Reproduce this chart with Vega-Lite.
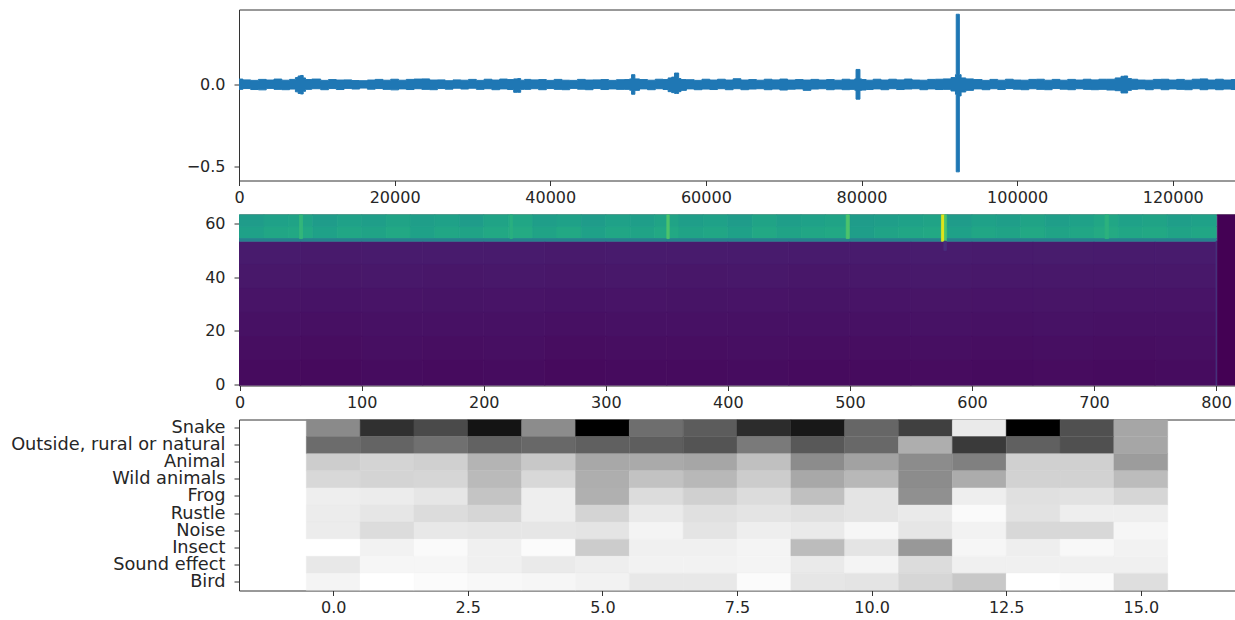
{"$schema":"https://vega.github.io/schema/vega-lite/v6.json","background":"white","padding":{"left":10,"top":8.5,"right":0,"bottom":0},"spacing":34,"bounds":"flush","resolve":{"scale":{"color":"independent","stroke":"independent"}},"config":{"view":{"stroke":"#333333","strokeWidth":1},"axis":{"grid":false,"domain":false,"title":null,"labelFont":"DejaVu Sans","labelFontSize":16,"labelColor":"#262626","tickColor":"#333333","tickSize":5,"labelFlush":false,"labelOverlap":false,"labelLimit":400},"axisX":{"labelPadding":4},"axisY":{"labelPadding":9}},"vconcat":[{"width":996,"height":171,"data":{"values":[{"t":0,"lo":-0.03,"hi":0.033},{"t":1000,"lo":-0.025,"hi":0.028},{"t":2000,"lo":-0.031,"hi":0.025},{"t":3000,"lo":-0.033,"hi":0.031},{"t":4000,"lo":-0.024,"hi":0.027},{"t":5000,"lo":-0.03,"hi":0.033},{"t":6000,"lo":-0.032,"hi":0.026},{"t":7000,"lo":-0.028,"hi":0.031},{"t":7500,"lo":-0.045,"hi":0.042},{"t":7700,"lo":-0.055,"hi":0.052},{"t":8100,"lo":-0.058,"hi":0.055},{"t":8400,"lo":-0.042,"hi":0.04},{"t":8700,"lo":-0.03,"hi":0.03},{"t":10000,"lo":-0.026,"hi":0.033},{"t":11000,"lo":-0.032,"hi":0.025},{"t":12000,"lo":-0.025,"hi":0.03},{"t":13000,"lo":-0.031,"hi":0.027},{"t":14000,"lo":-0.024,"hi":0.028},{"t":15000,"lo":-0.028,"hi":0.024},{"t":16000,"lo":-0.022,"hi":0.023},{"t":17000,"lo":-0.029,"hi":0.027},{"t":18000,"lo":-0.025,"hi":0.031},{"t":19000,"lo":-0.03,"hi":0.026},{"t":20000,"lo":-0.033,"hi":0.032},{"t":21000,"lo":-0.027,"hi":0.026},{"t":22000,"lo":-0.031,"hi":0.031},{"t":23000,"lo":-0.026,"hi":0.033},{"t":24000,"lo":-0.03,"hi":0.034},{"t":25000,"lo":-0.032,"hi":0.027},{"t":26000,"lo":-0.025,"hi":0.028},{"t":27000,"lo":-0.029,"hi":0.023},{"t":28000,"lo":-0.023,"hi":0.028},{"t":29000,"lo":-0.028,"hi":0.026},{"t":30000,"lo":-0.023,"hi":0.031},{"t":31000,"lo":-0.03,"hi":0.025},{"t":32000,"lo":-0.026,"hi":0.032},{"t":33000,"lo":-0.032,"hi":0.027},{"t":34000,"lo":-0.027,"hi":0.033},{"t":35000,"lo":-0.031,"hi":0.03},{"t":35600,"lo":-0.048,"hi":0.034},{"t":36000,"lo":-0.048,"hi":0.036},{"t":36400,"lo":-0.03,"hi":0.026},{"t":37000,"lo":-0.03,"hi":0.031},{"t":38000,"lo":-0.026,"hi":0.028},{"t":39000,"lo":-0.032,"hi":0.03},{"t":40000,"lo":-0.025,"hi":0.025},{"t":41000,"lo":-0.03,"hi":0.031},{"t":42000,"lo":-0.032,"hi":0.026},{"t":43000,"lo":-0.024,"hi":0.025},{"t":44000,"lo":-0.029,"hi":0.031},{"t":45000,"lo":-0.032,"hi":0.027},{"t":46000,"lo":-0.025,"hi":0.028},{"t":47000,"lo":-0.031,"hi":0.03},{"t":48000,"lo":-0.027,"hi":0.025},{"t":49000,"lo":-0.03,"hi":0.029},{"t":50000,"lo":-0.03,"hi":0.03},{"t":50400,"lo":-0.035,"hi":0.034},{"t":50500,"lo":-0.06,"hi":0.06},{"t":50800,"lo":-0.06,"hi":0.06},{"t":50950,"lo":-0.036,"hi":0.034},{"t":52000,"lo":-0.027,"hi":0.03},{"t":53000,"lo":-0.032,"hi":0.026},{"t":54000,"lo":-0.026,"hi":0.032},{"t":55000,"lo":-0.031,"hi":0.03},{"t":55300,"lo":-0.044,"hi":0.04},{"t":55900,"lo":-0.05,"hi":0.045},{"t":56050,"lo":-0.055,"hi":0.07},{"t":56400,"lo":-0.055,"hi":0.07},{"t":56600,"lo":-0.044,"hi":0.036},{"t":57000,"lo":-0.036,"hi":0.03},{"t":58000,"lo":-0.027,"hi":0.029},{"t":59000,"lo":-0.032,"hi":0.025},{"t":60000,"lo":-0.028,"hi":0.032},{"t":61000,"lo":-0.031,"hi":0.027},{"t":62000,"lo":-0.026,"hi":0.032},{"t":63000,"lo":-0.032,"hi":0.027},{"t":64000,"lo":-0.026,"hi":0.035},{"t":65000,"lo":-0.032,"hi":0.027},{"t":66000,"lo":-0.028,"hi":0.03},{"t":67000,"lo":-0.026,"hi":0.026},{"t":68000,"lo":-0.032,"hi":0.032},{"t":69000,"lo":-0.028,"hi":0.028},{"t":70000,"lo":-0.034,"hi":0.033},{"t":71000,"lo":-0.029,"hi":0.027},{"t":72000,"lo":-0.027,"hi":0.03},{"t":73000,"lo":-0.036,"hi":0.027},{"t":74000,"lo":-0.028,"hi":0.031},{"t":75000,"lo":-0.026,"hi":0.027},{"t":76000,"lo":-0.032,"hi":0.03},{"t":77000,"lo":-0.028,"hi":0.026},{"t":78000,"lo":-0.032,"hi":0.032},{"t":79000,"lo":-0.03,"hi":0.028},{"t":79250,"lo":-0.035,"hi":0.034},{"t":79350,"lo":-0.09,"hi":0.092},{"t":79750,"lo":-0.09,"hi":0.092},{"t":79850,"lo":-0.036,"hi":0.034},{"t":80200,"lo":-0.034,"hi":0.03},{"t":81000,"lo":-0.031,"hi":0.026},{"t":82000,"lo":-0.027,"hi":0.032},{"t":83000,"lo":-0.032,"hi":0.027},{"t":84000,"lo":-0.026,"hi":0.032},{"t":85000,"lo":-0.031,"hi":0.028},{"t":86000,"lo":-0.028,"hi":0.033},{"t":87000,"lo":-0.026,"hi":0.027},{"t":88000,"lo":-0.032,"hi":0.026},{"t":89000,"lo":-0.027,"hi":0.031},{"t":90000,"lo":-0.031,"hi":0.032},{"t":91000,"lo":-0.03,"hi":0.034},{"t":92000,"lo":-0.04,"hi":0.042},{"t":92150,"lo":-0.06,"hi":0.06},{"t":92200,"lo":-0.535,"hi":0.43},{"t":92550,"lo":-0.535,"hi":0.43},{"t":92600,"lo":-0.07,"hi":0.06},{"t":93000,"lo":-0.046,"hi":0.04},{"t":93800,"lo":-0.036,"hi":0.034},{"t":95000,"lo":-0.027,"hi":0.03},{"t":96000,"lo":-0.032,"hi":0.025},{"t":97000,"lo":-0.026,"hi":0.031},{"t":98000,"lo":-0.031,"hi":0.026},{"t":99000,"lo":-0.025,"hi":0.032},{"t":100000,"lo":-0.029,"hi":0.027},{"t":101000,"lo":-0.032,"hi":0.026},{"t":102000,"lo":-0.026,"hi":0.031},{"t":103000,"lo":-0.03,"hi":0.032},{"t":104000,"lo":-0.032,"hi":0.026},{"t":105000,"lo":-0.025,"hi":0.031},{"t":106000,"lo":-0.029,"hi":0.026},{"t":107000,"lo":-0.032,"hi":0.031},{"t":108000,"lo":-0.026,"hi":0.027},{"t":109000,"lo":-0.03,"hi":0.032},{"t":110000,"lo":-0.032,"hi":0.028},{"t":111000,"lo":-0.03,"hi":0.032},{"t":112000,"lo":-0.034,"hi":0.032},{"t":113200,"lo":-0.038,"hi":0.04},{"t":113500,"lo":-0.052,"hi":0.05},{"t":114000,"lo":-0.052,"hi":0.052},{"t":114400,"lo":-0.036,"hi":0.036},{"t":115000,"lo":-0.03,"hi":0.032},{"t":116000,"lo":-0.027,"hi":0.027},{"t":117000,"lo":-0.032,"hi":0.026},{"t":118000,"lo":-0.026,"hi":0.031},{"t":119000,"lo":-0.032,"hi":0.032},{"t":120000,"lo":-0.027,"hi":0.027},{"t":121000,"lo":-0.03,"hi":0.031},{"t":122000,"lo":-0.032,"hi":0.026},{"t":123000,"lo":-0.026,"hi":0.032},{"t":124000,"lo":-0.032,"hi":0.034},{"t":125000,"lo":-0.027,"hi":0.027},{"t":126000,"lo":-0.032,"hi":0.032},{"t":127000,"lo":-0.028,"hi":0.027},{"t":128000,"lo":-0.031,"hi":0.03}]},"mark":{"type":"area","color":"#1f77b4","stroke":"#1f77b4","strokeWidth":1,"interpolate":"step","clip":true},"encoding":{"x":{"field":"t","type":"quantitative","scale":{"domain":[0,128000],"nice":false,"zero":false},"axis":{"values":[0,20000,40000,60000,80000,100000,120000],"format":"d"}},"y":{"field":"lo","type":"quantitative","scale":{"domain":[-0.588,0.459],"nice":false,"zero":false},"axis":{"values":[-0.5,0],"format":".1f"}},"y2":{"field":"hi"}}},{"width":996,"height":171,"data":{"values":[{"a":-0.5,"b":50,"c":-0.5,"d":9,"v":0.026},{"a":50,"b":100,"c":-0.5,"d":9,"v":0.024},{"a":100,"b":150,"c":-0.5,"d":9,"v":0.027},{"a":150,"b":200,"c":-0.5,"d":9,"v":0.025},{"a":200,"b":250,"c":-0.5,"d":9,"v":0.027},{"a":250,"b":300,"c":-0.5,"d":9,"v":0.024},{"a":300,"b":350,"c":-0.5,"d":9,"v":0.026},{"a":350,"b":400,"c":-0.5,"d":9,"v":0.025},{"a":400,"b":450,"c":-0.5,"d":9,"v":0.027},{"a":450,"b":500,"c":-0.5,"d":9,"v":0.025},{"a":500,"b":550,"c":-0.5,"d":9,"v":0.026},{"a":550,"b":600,"c":-0.5,"d":9,"v":0.028},{"a":600,"b":650,"c":-0.5,"d":9,"v":0.026},{"a":650,"b":700,"c":-0.5,"d":9,"v":0.028},{"a":700,"b":750,"c":-0.5,"d":9,"v":0.026},{"a":750,"b":800,"c":-0.5,"d":9,"v":0.027},{"a":-0.5,"b":50,"c":9,"d":18,"v":0.034},{"a":50,"b":100,"c":9,"d":18,"v":0.032},{"a":100,"b":150,"c":9,"d":18,"v":0.035},{"a":150,"b":200,"c":9,"d":18,"v":0.033},{"a":200,"b":250,"c":9,"d":18,"v":0.035},{"a":250,"b":300,"c":9,"d":18,"v":0.032},{"a":300,"b":350,"c":9,"d":18,"v":0.034},{"a":350,"b":400,"c":9,"d":18,"v":0.033},{"a":400,"b":450,"c":9,"d":18,"v":0.035},{"a":450,"b":500,"c":9,"d":18,"v":0.033},{"a":500,"b":550,"c":9,"d":18,"v":0.034},{"a":550,"b":600,"c":9,"d":18,"v":0.036},{"a":600,"b":650,"c":9,"d":18,"v":0.034},{"a":650,"b":700,"c":9,"d":18,"v":0.036},{"a":700,"b":750,"c":9,"d":18,"v":0.034},{"a":750,"b":800,"c":9,"d":18,"v":0.035},{"a":-0.5,"b":50,"c":18,"d":27,"v":0.042},{"a":50,"b":100,"c":18,"d":27,"v":0.04},{"a":100,"b":150,"c":18,"d":27,"v":0.043},{"a":150,"b":200,"c":18,"d":27,"v":0.041},{"a":200,"b":250,"c":18,"d":27,"v":0.043},{"a":250,"b":300,"c":18,"d":27,"v":0.04},{"a":300,"b":350,"c":18,"d":27,"v":0.042},{"a":350,"b":400,"c":18,"d":27,"v":0.041},{"a":400,"b":450,"c":18,"d":27,"v":0.043},{"a":450,"b":500,"c":18,"d":27,"v":0.041},{"a":500,"b":550,"c":18,"d":27,"v":0.042},{"a":550,"b":600,"c":18,"d":27,"v":0.044},{"a":600,"b":650,"c":18,"d":27,"v":0.042},{"a":650,"b":700,"c":18,"d":27,"v":0.044},{"a":700,"b":750,"c":18,"d":27,"v":0.042},{"a":750,"b":800,"c":18,"d":27,"v":0.043},{"a":-0.5,"b":50,"c":27,"d":36,"v":0.05},{"a":50,"b":100,"c":27,"d":36,"v":0.048},{"a":100,"b":150,"c":27,"d":36,"v":0.051},{"a":150,"b":200,"c":27,"d":36,"v":0.049},{"a":200,"b":250,"c":27,"d":36,"v":0.051},{"a":250,"b":300,"c":27,"d":36,"v":0.048},{"a":300,"b":350,"c":27,"d":36,"v":0.05},{"a":350,"b":400,"c":27,"d":36,"v":0.049},{"a":400,"b":450,"c":27,"d":36,"v":0.051},{"a":450,"b":500,"c":27,"d":36,"v":0.049},{"a":500,"b":550,"c":27,"d":36,"v":0.05},{"a":550,"b":600,"c":27,"d":36,"v":0.053},{"a":600,"b":650,"c":27,"d":36,"v":0.05},{"a":650,"b":700,"c":27,"d":36,"v":0.052},{"a":700,"b":750,"c":27,"d":36,"v":0.05},{"a":750,"b":800,"c":27,"d":36,"v":0.051},{"a":-0.5,"b":50,"c":36,"d":45,"v":0.06},{"a":50,"b":100,"c":36,"d":45,"v":0.058},{"a":100,"b":150,"c":36,"d":45,"v":0.061},{"a":150,"b":200,"c":36,"d":45,"v":0.059},{"a":200,"b":250,"c":36,"d":45,"v":0.061},{"a":250,"b":300,"c":36,"d":45,"v":0.058},{"a":300,"b":350,"c":36,"d":45,"v":0.06},{"a":350,"b":400,"c":36,"d":45,"v":0.059},{"a":400,"b":450,"c":36,"d":45,"v":0.061},{"a":450,"b":500,"c":36,"d":45,"v":0.059},{"a":500,"b":550,"c":36,"d":45,"v":0.06},{"a":550,"b":600,"c":36,"d":45,"v":0.063},{"a":600,"b":650,"c":36,"d":45,"v":0.06},{"a":650,"b":700,"c":36,"d":45,"v":0.062},{"a":700,"b":750,"c":36,"d":45,"v":0.06},{"a":750,"b":800,"c":36,"d":45,"v":0.061},{"a":-0.5,"b":50,"c":45,"d":53.5,"v":0.07},{"a":50,"b":100,"c":45,"d":53.5,"v":0.068},{"a":100,"b":150,"c":45,"d":53.5,"v":0.071},{"a":150,"b":200,"c":45,"d":53.5,"v":0.069},{"a":200,"b":250,"c":45,"d":53.5,"v":0.071},{"a":250,"b":300,"c":45,"d":53.5,"v":0.068},{"a":300,"b":350,"c":45,"d":53.5,"v":0.07},{"a":350,"b":400,"c":45,"d":53.5,"v":0.069},{"a":400,"b":450,"c":45,"d":53.5,"v":0.071},{"a":450,"b":500,"c":45,"d":53.5,"v":0.069},{"a":500,"b":550,"c":45,"d":53.5,"v":0.07},{"a":550,"b":600,"c":45,"d":53.5,"v":0.073},{"a":600,"b":650,"c":45,"d":53.5,"v":0.07},{"a":650,"b":700,"c":45,"d":53.5,"v":0.072},{"a":700,"b":750,"c":45,"d":53.5,"v":0.07},{"a":750,"b":800,"c":45,"d":53.5,"v":0.071},{"a":-0.5,"b":20,"c":54.5,"d":59,"v":0.57},{"a":20,"b":40,"c":54.5,"d":59,"v":0.59},{"a":40,"b":60,"c":54.5,"d":59,"v":0.6},{"a":60,"b":80,"c":54.5,"d":59,"v":0.57},{"a":80,"b":100,"c":54.5,"d":59,"v":0.59},{"a":100,"b":120,"c":54.5,"d":59,"v":0.58},{"a":120,"b":140,"c":54.5,"d":59,"v":0.6},{"a":140,"b":160,"c":54.5,"d":59,"v":0.57},{"a":160,"b":180,"c":54.5,"d":59,"v":0.59},{"a":180,"b":200,"c":54.5,"d":59,"v":0.58},{"a":200,"b":220,"c":54.5,"d":59,"v":0.6},{"a":220,"b":240,"c":54.5,"d":59,"v":0.61},{"a":240,"b":260,"c":54.5,"d":59,"v":0.58},{"a":260,"b":280,"c":54.5,"d":59,"v":0.6},{"a":280,"b":300,"c":54.5,"d":59,"v":0.57},{"a":300,"b":320,"c":54.5,"d":59,"v":0.59},{"a":320,"b":340,"c":54.5,"d":59,"v":0.58},{"a":340,"b":360,"c":54.5,"d":59,"v":0.6},{"a":360,"b":380,"c":54.5,"d":59,"v":0.58},{"a":380,"b":400,"c":54.5,"d":59,"v":0.59},{"a":400,"b":420,"c":54.5,"d":59,"v":0.57},{"a":420,"b":440,"c":54.5,"d":59,"v":0.6},{"a":440,"b":460,"c":54.5,"d":59,"v":0.58},{"a":460,"b":480,"c":54.5,"d":59,"v":0.59},{"a":480,"b":500,"c":54.5,"d":59,"v":0.6},{"a":500,"b":520,"c":54.5,"d":59,"v":0.56},{"a":520,"b":540,"c":54.5,"d":59,"v":0.58},{"a":540,"b":560,"c":54.5,"d":59,"v":0.59},{"a":560,"b":580,"c":54.5,"d":59,"v":0.6},{"a":580,"b":600,"c":54.5,"d":59,"v":0.57},{"a":600,"b":620,"c":54.5,"d":59,"v":0.59},{"a":620,"b":640,"c":54.5,"d":59,"v":0.58},{"a":640,"b":660,"c":54.5,"d":59,"v":0.6},{"a":660,"b":680,"c":54.5,"d":59,"v":0.58},{"a":680,"b":700,"c":54.5,"d":59,"v":0.59},{"a":700,"b":720,"c":54.5,"d":59,"v":0.61},{"a":720,"b":740,"c":54.5,"d":59,"v":0.59},{"a":740,"b":760,"c":54.5,"d":59,"v":0.6},{"a":760,"b":780,"c":54.5,"d":59,"v":0.58},{"a":780,"b":800.5,"c":54.5,"d":59,"v":0.59},{"a":-0.5,"b":20,"c":59,"d":63.5,"v":0.55},{"a":20,"b":40,"c":59,"d":63.5,"v":0.57},{"a":40,"b":60,"c":59,"d":63.5,"v":0.58},{"a":60,"b":80,"c":59,"d":63.5,"v":0.55},{"a":80,"b":100,"c":59,"d":63.5,"v":0.57},{"a":100,"b":120,"c":59,"d":63.5,"v":0.56},{"a":120,"b":140,"c":59,"d":63.5,"v":0.58},{"a":140,"b":160,"c":59,"d":63.5,"v":0.56},{"a":160,"b":180,"c":59,"d":63.5,"v":0.57},{"a":180,"b":200,"c":59,"d":63.5,"v":0.55},{"a":200,"b":220,"c":59,"d":63.5,"v":0.58},{"a":220,"b":240,"c":59,"d":63.5,"v":0.59},{"a":240,"b":260,"c":59,"d":63.5,"v":0.56},{"a":260,"b":280,"c":59,"d":63.5,"v":0.57},{"a":280,"b":300,"c":59,"d":63.5,"v":0.55},{"a":300,"b":320,"c":59,"d":63.5,"v":0.57},{"a":320,"b":340,"c":59,"d":63.5,"v":0.56},{"a":340,"b":360,"c":59,"d":63.5,"v":0.58},{"a":360,"b":380,"c":59,"d":63.5,"v":0.56},{"a":380,"b":400,"c":59,"d":63.5,"v":0.57},{"a":400,"b":420,"c":59,"d":63.5,"v":0.55},{"a":420,"b":440,"c":59,"d":63.5,"v":0.58},{"a":440,"b":460,"c":59,"d":63.5,"v":0.56},{"a":460,"b":480,"c":59,"d":63.5,"v":0.57},{"a":480,"b":500,"c":59,"d":63.5,"v":0.58},{"a":500,"b":520,"c":59,"d":63.5,"v":0.55},{"a":520,"b":540,"c":59,"d":63.5,"v":0.56},{"a":540,"b":560,"c":59,"d":63.5,"v":0.57},{"a":560,"b":580,"c":59,"d":63.5,"v":0.58},{"a":580,"b":600,"c":59,"d":63.5,"v":0.55},{"a":600,"b":620,"c":59,"d":63.5,"v":0.57},{"a":620,"b":640,"c":59,"d":63.5,"v":0.56},{"a":640,"b":660,"c":59,"d":63.5,"v":0.58},{"a":660,"b":680,"c":59,"d":63.5,"v":0.56},{"a":680,"b":700,"c":59,"d":63.5,"v":0.57},{"a":700,"b":720,"c":59,"d":63.5,"v":0.59},{"a":720,"b":740,"c":59,"d":63.5,"v":0.57},{"a":740,"b":760,"c":59,"d":63.5,"v":0.58},{"a":760,"b":780,"c":59,"d":63.5,"v":0.56},{"a":780,"b":800.5,"c":59,"d":63.5,"v":0.57},{"a":-0.5,"b":800.5,"c":53.5,"d":54.5,"v":0.44},{"a":49,"b":51.5,"c":54.5,"d":63.5,"v":0.66},{"a":221.5,"b":223.5,"c":54.5,"d":63.5,"v":0.63},{"a":350,"b":352,"c":54.5,"d":63.5,"v":0.72},{"a":497,"b":499.5,"c":54.5,"d":63.5,"v":0.72},{"a":575,"b":577.5,"c":53.5,"d":63.5,"v":0.95},{"a":577.5,"b":579,"c":53.5,"d":63.5,"v":0.72},{"a":577,"b":579,"c":50,"d":53.5,"v":0.13},{"a":709,"b":712,"c":54.5,"d":63.5,"v":0.64},{"a":800,"b":801,"c":-0.5,"d":53.5,"v":0.16},{"a":801,"b":815.5,"c":-0.5,"d":63.5,"v":0}]},"mark":{"type":"rect","clip":true,"strokeWidth":0.8},"encoding":{"x":{"field":"a","type":"quantitative","scale":{"domain":[-0.5,815.5],"nice":false,"zero":false},"axis":{"values":[0,100,200,300,400,500,600,700,800],"format":"d"}},"x2":{"field":"b"},"y":{"field":"c","type":"quantitative","scale":{"domain":[-0.5,63.5],"nice":false,"zero":false},"axis":{"values":[0,20,40,60],"format":"d"}},"y2":{"field":"d"},"color":{"field":"v","type":"quantitative","scale":{"scheme":"viridis","domain":[0,1]},"legend":null},"stroke":{"field":"v","type":"quantitative","scale":{"scheme":"viridis","domain":[0,1]},"legend":null}}},{"width":996,"height":171,"data":{"values":[{"tag":"Snake","a":-0.5,"b":0.5,"g":138},{"tag":"Snake","a":0.5,"b":1.5,"g":48},{"tag":"Snake","a":1.5,"b":2.5,"g":74},{"tag":"Snake","a":2.5,"b":3.5,"g":20},{"tag":"Snake","a":3.5,"b":4.5,"g":140},{"tag":"Snake","a":4.5,"b":5.5,"g":0},{"tag":"Snake","a":5.5,"b":6.5,"g":110},{"tag":"Snake","a":6.5,"b":7.5,"g":92},{"tag":"Snake","a":7.5,"b":8.5,"g":44},{"tag":"Snake","a":8.5,"b":9.5,"g":24},{"tag":"Snake","a":9.5,"b":10.5,"g":102},{"tag":"Snake","a":10.5,"b":11.5,"g":64},{"tag":"Snake","a":11.5,"b":12.5,"g":234},{"tag":"Snake","a":12.5,"b":13.5,"g":0},{"tag":"Snake","a":13.5,"b":14.5,"g":80},{"tag":"Snake","a":14.5,"b":15.5,"g":166},{"tag":"Outside, rural or natural","a":-0.5,"b":0.5,"g":108},{"tag":"Outside, rural or natural","a":0.5,"b":1.5,"g":100},{"tag":"Outside, rural or natural","a":1.5,"b":2.5,"g":112},{"tag":"Outside, rural or natural","a":2.5,"b":3.5,"g":98},{"tag":"Outside, rural or natural","a":3.5,"b":4.5,"g":104},{"tag":"Outside, rural or natural","a":4.5,"b":5.5,"g":96},{"tag":"Outside, rural or natural","a":5.5,"b":6.5,"g":94},{"tag":"Outside, rural or natural","a":6.5,"b":7.5,"g":84},{"tag":"Outside, rural or natural","a":7.5,"b":8.5,"g":122},{"tag":"Outside, rural or natural","a":8.5,"b":9.5,"g":88},{"tag":"Outside, rural or natural","a":9.5,"b":10.5,"g":104},{"tag":"Outside, rural or natural","a":10.5,"b":11.5,"g":174},{"tag":"Outside, rural or natural","a":11.5,"b":12.5,"g":58},{"tag":"Outside, rural or natural","a":12.5,"b":13.5,"g":96},{"tag":"Outside, rural or natural","a":13.5,"b":14.5,"g":80},{"tag":"Outside, rural or natural","a":14.5,"b":15.5,"g":166},{"tag":"Animal ","a":-0.5,"b":0.5,"g":205},{"tag":"Animal ","a":0.5,"b":1.5,"g":212},{"tag":"Animal ","a":1.5,"b":2.5,"g":208},{"tag":"Animal ","a":2.5,"b":3.5,"g":180},{"tag":"Animal ","a":3.5,"b":4.5,"g":200},{"tag":"Animal ","a":4.5,"b":5.5,"g":168},{"tag":"Animal ","a":5.5,"b":6.5,"g":170},{"tag":"Animal ","a":6.5,"b":7.5,"g":166},{"tag":"Animal ","a":7.5,"b":8.5,"g":192},{"tag":"Animal ","a":8.5,"b":9.5,"g":140},{"tag":"Animal ","a":9.5,"b":10.5,"g":162},{"tag":"Animal ","a":10.5,"b":11.5,"g":140},{"tag":"Animal ","a":11.5,"b":12.5,"g":128},{"tag":"Animal ","a":12.5,"b":13.5,"g":208},{"tag":"Animal ","a":13.5,"b":14.5,"g":208},{"tag":"Animal ","a":14.5,"b":15.5,"g":156},{"tag":"Wild animals","a":-0.5,"b":0.5,"g":216},{"tag":"Wild animals","a":0.5,"b":1.5,"g":212},{"tag":"Wild animals","a":1.5,"b":2.5,"g":214},{"tag":"Wild animals","a":2.5,"b":3.5,"g":186},{"tag":"Wild animals","a":3.5,"b":4.5,"g":216},{"tag":"Wild animals","a":4.5,"b":5.5,"g":174},{"tag":"Wild animals","a":5.5,"b":6.5,"g":194},{"tag":"Wild animals","a":6.5,"b":7.5,"g":184},{"tag":"Wild animals","a":7.5,"b":8.5,"g":204},{"tag":"Wild animals","a":8.5,"b":9.5,"g":168},{"tag":"Wild animals","a":9.5,"b":10.5,"g":184},{"tag":"Wild animals","a":10.5,"b":11.5,"g":140},{"tag":"Wild animals","a":11.5,"b":12.5,"g":172},{"tag":"Wild animals","a":12.5,"b":13.5,"g":210},{"tag":"Wild animals","a":13.5,"b":14.5,"g":210},{"tag":"Wild animals","a":14.5,"b":15.5,"g":188},{"tag":"Frog","a":-0.5,"b":0.5,"g":238},{"tag":"Frog","a":0.5,"b":1.5,"g":236},{"tag":"Frog","a":1.5,"b":2.5,"g":230},{"tag":"Frog","a":2.5,"b":3.5,"g":196},{"tag":"Frog","a":3.5,"b":4.5,"g":238},{"tag":"Frog","a":4.5,"b":5.5,"g":176},{"tag":"Frog","a":5.5,"b":6.5,"g":220},{"tag":"Frog","a":6.5,"b":7.5,"g":208},{"tag":"Frog","a":7.5,"b":8.5,"g":220},{"tag":"Frog","a":8.5,"b":9.5,"g":192},{"tag":"Frog","a":9.5,"b":10.5,"g":228},{"tag":"Frog","a":10.5,"b":11.5,"g":144},{"tag":"Frog","a":11.5,"b":12.5,"g":238},{"tag":"Frog","a":12.5,"b":13.5,"g":224},{"tag":"Frog","a":13.5,"b":14.5,"g":226},{"tag":"Frog","a":14.5,"b":15.5,"g":214},{"tag":"Rustle","a":-0.5,"b":0.5,"g":236},{"tag":"Rustle","a":0.5,"b":1.5,"g":230},{"tag":"Rustle","a":1.5,"b":2.5,"g":220},{"tag":"Rustle","a":2.5,"b":3.5,"g":214},{"tag":"Rustle","a":3.5,"b":4.5,"g":238},{"tag":"Rustle","a":4.5,"b":5.5,"g":212},{"tag":"Rustle","a":5.5,"b":6.5,"g":234},{"tag":"Rustle","a":6.5,"b":7.5,"g":224},{"tag":"Rustle","a":7.5,"b":8.5,"g":228},{"tag":"Rustle","a":8.5,"b":9.5,"g":224},{"tag":"Rustle","a":9.5,"b":10.5,"g":228},{"tag":"Rustle","a":10.5,"b":11.5,"g":234},{"tag":"Rustle","a":11.5,"b":12.5,"g":250},{"tag":"Rustle","a":12.5,"b":13.5,"g":226},{"tag":"Rustle","a":13.5,"b":14.5,"g":238},{"tag":"Rustle","a":14.5,"b":15.5,"g":238},{"tag":"Noise","a":-0.5,"b":0.5,"g":236},{"tag":"Noise","a":0.5,"b":1.5,"g":220},{"tag":"Noise","a":1.5,"b":2.5,"g":232},{"tag":"Noise","a":2.5,"b":3.5,"g":230},{"tag":"Noise","a":3.5,"b":4.5,"g":230},{"tag":"Noise","a":4.5,"b":5.5,"g":228},{"tag":"Noise","a":5.5,"b":6.5,"g":244},{"tag":"Noise","a":6.5,"b":7.5,"g":228},{"tag":"Noise","a":7.5,"b":8.5,"g":238},{"tag":"Noise","a":8.5,"b":9.5,"g":234},{"tag":"Noise","a":9.5,"b":10.5,"g":246},{"tag":"Noise","a":10.5,"b":11.5,"g":230},{"tag":"Noise","a":11.5,"b":12.5,"g":242},{"tag":"Noise","a":12.5,"b":13.5,"g":216},{"tag":"Noise","a":13.5,"b":14.5,"g":216},{"tag":"Noise","a":14.5,"b":15.5,"g":246},{"tag":"Insect","a":-0.5,"b":0.5,"g":255},{"tag":"Insect","a":0.5,"b":1.5,"g":242},{"tag":"Insect","a":1.5,"b":2.5,"g":250},{"tag":"Insect","a":2.5,"b":3.5,"g":240},{"tag":"Insect","a":3.5,"b":4.5,"g":251},{"tag":"Insect","a":4.5,"b":5.5,"g":204},{"tag":"Insect","a":5.5,"b":6.5,"g":240},{"tag":"Insect","a":6.5,"b":7.5,"g":240},{"tag":"Insect","a":7.5,"b":8.5,"g":244},{"tag":"Insect","a":8.5,"b":9.5,"g":188},{"tag":"Insect","a":9.5,"b":10.5,"g":228},{"tag":"Insect","a":10.5,"b":11.5,"g":152},{"tag":"Insect","a":11.5,"b":12.5,"g":246},{"tag":"Insect","a":12.5,"b":13.5,"g":238},{"tag":"Insect","a":13.5,"b":14.5,"g":248},{"tag":"Insect","a":14.5,"b":15.5,"g":242},{"tag":"Sound effect","a":-0.5,"b":0.5,"g":232},{"tag":"Sound effect","a":0.5,"b":1.5,"g":246},{"tag":"Sound effect","a":1.5,"b":2.5,"g":246},{"tag":"Sound effect","a":2.5,"b":3.5,"g":240},{"tag":"Sound effect","a":3.5,"b":4.5,"g":234},{"tag":"Sound effect","a":4.5,"b":5.5,"g":238},{"tag":"Sound effect","a":5.5,"b":6.5,"g":242},{"tag":"Sound effect","a":6.5,"b":7.5,"g":242},{"tag":"Sound effect","a":7.5,"b":8.5,"g":244},{"tag":"Sound effect","a":8.5,"b":9.5,"g":234},{"tag":"Sound effect","a":9.5,"b":10.5,"g":244},{"tag":"Sound effect","a":10.5,"b":11.5,"g":220},{"tag":"Sound effect","a":11.5,"b":12.5,"g":240},{"tag":"Sound effect","a":12.5,"b":13.5,"g":240},{"tag":"Sound effect","a":13.5,"b":14.5,"g":240},{"tag":"Sound effect","a":14.5,"b":15.5,"g":240},{"tag":"Bird","a":-0.5,"b":0.5,"g":244},{"tag":"Bird","a":0.5,"b":1.5,"g":255},{"tag":"Bird","a":1.5,"b":2.5,"g":251},{"tag":"Bird","a":2.5,"b":3.5,"g":248},{"tag":"Bird","a":3.5,"b":4.5,"g":246},{"tag":"Bird","a":4.5,"b":5.5,"g":242},{"tag":"Bird","a":5.5,"b":6.5,"g":232},{"tag":"Bird","a":6.5,"b":7.5,"g":232},{"tag":"Bird","a":7.5,"b":8.5,"g":251},{"tag":"Bird","a":8.5,"b":9.5,"g":230},{"tag":"Bird","a":9.5,"b":10.5,"g":228},{"tag":"Bird","a":10.5,"b":11.5,"g":214},{"tag":"Bird","a":11.5,"b":12.5,"g":200},{"tag":"Bird","a":12.5,"b":13.5,"g":255},{"tag":"Bird","a":13.5,"b":14.5,"g":251},{"tag":"Bird","a":14.5,"b":15.5,"g":222}]},"mark":{"type":"rect","clip":true,"strokeWidth":0.4},"encoding":{"x":{"field":"a","type":"quantitative","scale":{"domain":[-1.75,16.75],"nice":false,"zero":false},"axis":{"values":[0,2.5,5,7.5,10,12.5,15],"format":".1f"}},"x2":{"field":"b"},"y":{"field":"tag","type":"ordinal","sort":null,"scale":{"paddingInner":0,"paddingOuter":0},"axis":{"labelAngle":0,"labelFontSize":17.75}},"color":{"field":"g","type":"quantitative","scale":{"domain":[0,255],"range":["#000000","#ffffff"],"interpolate":"rgb"},"legend":null},"stroke":{"field":"g","type":"quantitative","scale":{"domain":[0,255],"range":["#000000","#ffffff"],"interpolate":"rgb"},"legend":null}}}]}
